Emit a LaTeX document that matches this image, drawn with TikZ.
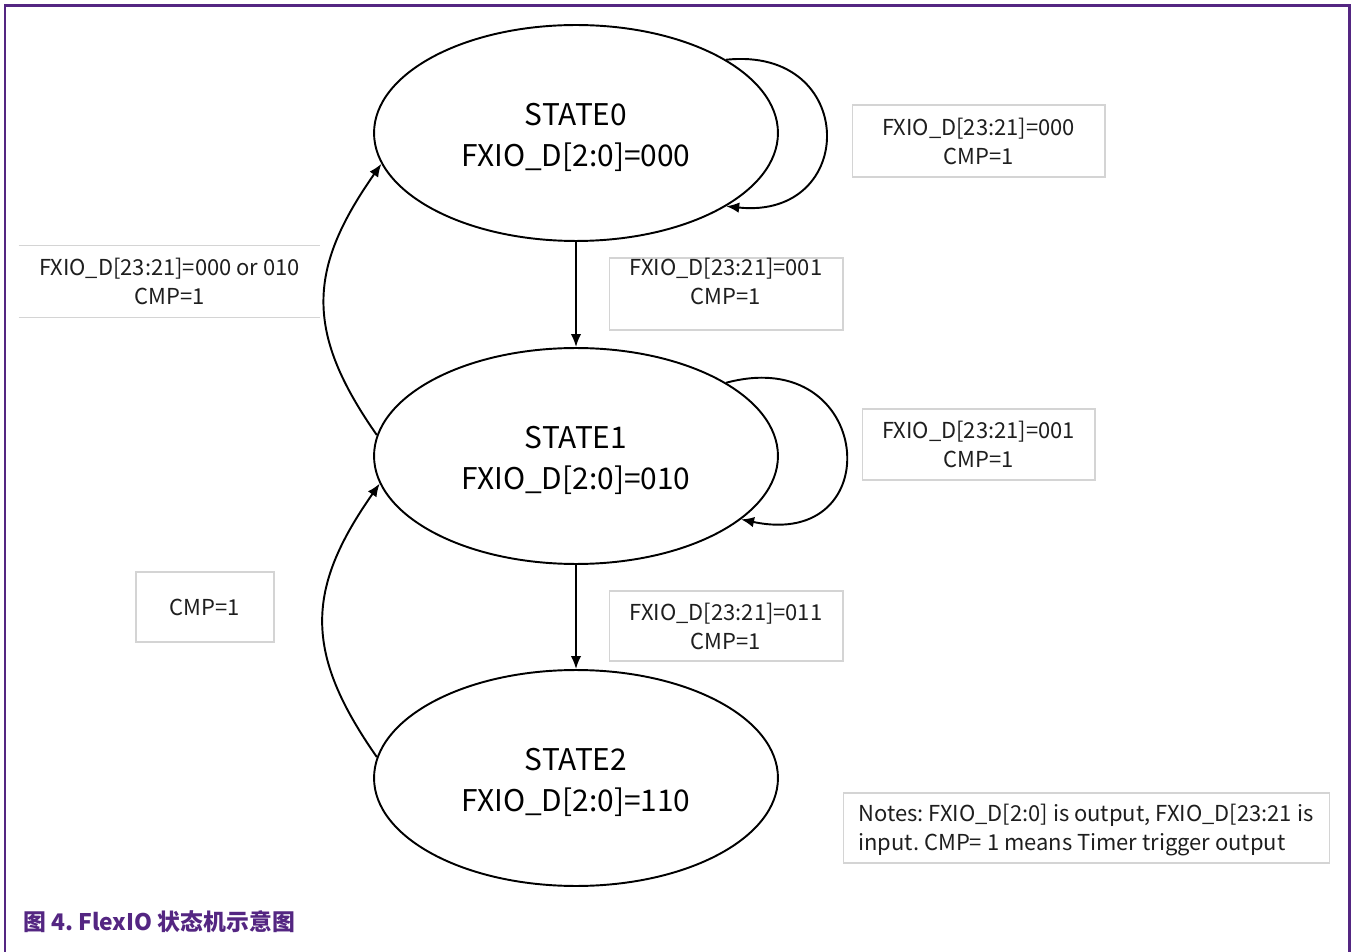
\documentclass[tikz,border=0pt]{standalone}
\usepackage{fontspec}
\setmainfont{Noto Sans CJK SC}
\usetikzlibrary{arrows.meta, positioning, shapes, calc}
\definecolor{FramePurple}{RGB}{84, 38, 130}
\definecolor{BoxGray}{RGB}{212, 212, 212}
\definecolor{TextDark}{RGB}{30, 30, 30}
\frenchspacing

\begin{document}
\begin{tikzpicture}[x=0.02cm, y=0.02cm, >={Latex[length=2.6mm, width=2.1mm]},
        state/.style={draw, ellipse, line width=1.1pt, minimum width=8.08cm, minimum height=4.32cm, inner sep=0pt},
        statetext/.style={align=center, font=\fontsize{17}{23.3}\selectfont},
        lblbox/.style={draw=BoxGray, line width=0.6pt, inner sep=0pt},
        lbltext/.style={align=center, text=TextDark, font=\fontsize{12.5}{16.5}\selectfont},
        trans/.style={->, line width=1.1pt}]
        \useasboundingbox (0,0) rectangle (1352,-952);

        % frame and caption
        \draw[FramePurple, line width=0.06cm] (5,-952) -- (5,-6) -- (1349,-6) -- (1349,-952);
        \node[anchor=west, text=FramePurple, font=\fontsize{13}{15}\selectfont\bfseries] (cap) at (17,-922) {图 4.\ FlexIO 状态机示意图};

        % states
        \node[state] (s0) at (576,-133) {};
        \node[state] (s1) at (576,-456) {};
        \node[state] (s2) at (576,-778) {};
        \node[statetext] (s0t) at (576,-137) {STATE0\\FXIO\_D[2:0]=000};
        \node[statetext] (s1t) at (576,-460) {STATE1\\FXIO\_D[2:0]=010};
        \node[statetext] (s2t) at (576,-782) {STATE2\\FXIO\_D[2:0]=110};

        % transition labels
        \node[lblbox, minimum width=5.06cm, minimum height=1.44cm] (b0) at (978.5,-141) {};
        \node[lbltext] (t0) at (b0) {FXIO\_D[23:21]=000\\CMP=1};

        \node[lblbox, minimum width=4.68cm, minimum height=1.44cm] (b1) at (726,-294) {};
        \node[lbltext] (t1) at (726,-281) {FXIO\_D[23:21]=001\\CMP=1};

        \node[lblbox, minimum width=4.66cm, minimum height=1.42cm] (b2) at (978.5,-444.5) {};
        \node[lbltext] (t2) at (b2) {FXIO\_D[23:21]=001\\CMP=1};

        \node[lblbox, minimum width=4.68cm, minimum height=1.40cm] (b3) at (726,-626) {};
        \node[lbltext] (t3) at (b3) {FXIO\_D[23:21]=011\\CMP=1};

        \node[lbltext, minimum width=6.02cm, minimum height=1.42cm, inner sep=0pt] (t4) at (169.5,-281.5) {FXIO\_D[23:21]=000 or 010\\CMP=1};
        \draw[BoxGray, line width=0.6pt] (t4.north west) -- (t4.north east) (t4.south west) -- (t4.south east);

        \node[lblbox, minimum width=2.76cm, minimum height=1.40cm] (b5) at (205,-607) {};
        \node[lbltext] (t5) at (b5) {CMP=1};

        \node[lblbox, minimum width=9.74cm, minimum height=1.40cm] (nb) at (1086.5,-828) {};
        \node[anchor=west, align=left, inner sep=0pt, text=TextDark, font=\fontsize{12.5}{16.5}\selectfont] (notes) at (858,-830) {Notes: FXIO\_D[2:0] is output, FXIO\_D[23:21 is\\input. CMP= 1 means Timer trigger output};

        % transitions
        \draw[trans] (s0.south) -- (s1.north);
        \draw[trans] (s1.south) -- (s2.north);
        \draw[trans] (s0.26) to[out=6, in=-6, looseness=2.33] (s0.-26);
        \draw[trans] (s1.26) to[out=15, in=-12, looseness=2.85] (s1.-21);
        \draw[trans] (s1.174) to[out=125, in=-125, looseness=1.2] (s0.189);
        \draw[trans] (s2.174) to[out=125, in=-125, looseness=1.2] (s1.188);
    \end{tikzpicture}
\end{document}
